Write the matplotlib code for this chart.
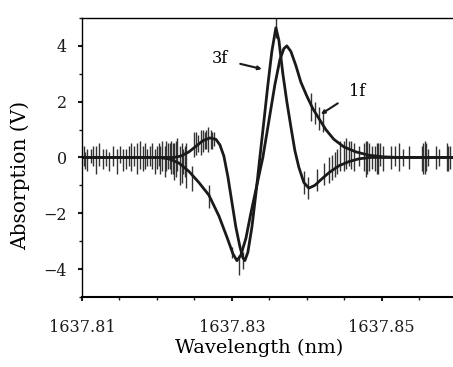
import matplotlib
matplotlib.use("Agg")
import matplotlib.pyplot as plt
from matplotlib.ticker import MultipleLocator

# smooth 1f signal (nm, V)
f1_x = [1637.81000, 1637.82027, 1637.82160, 1637.82293, 1637.82427, 1637.82560,
        1637.82693, 1637.82827, 1637.82933, 1637.83013, 1637.83067, 1637.83120,
        1637.83187, 1637.83253, 1637.83333, 1637.83413, 1637.83493, 1637.83573,
        1637.83640, 1637.83693, 1637.83733, 1637.83787, 1637.83853, 1637.83920,
        1637.84000, 1637.84080, 1637.84160, 1637.84253, 1637.84360, 1637.84493,
        1637.84653, 1637.84827, 1637.85027, 1637.85227, 1637.85950]
f1_y = [0, 0, -0.05, -0.2, -0.5, -0.9,
        -1.35, -2.1, -2.85, -3.45, -3.7, -3.5,
        -2.9, -2.0, -1.0, 0.0, 1.3, 2.6,
        3.5, 3.9, 4.0, 3.8, 3.3, 2.7,
        2.2, 1.75, 1.4, 1.0, 0.65, 0.38,
        0.2, 0.08, 0.02, 0, 0]

# smooth 3f signal (nm, V)
f3_x = [1637.81000, 1637.82227, 1637.82320, 1637.82427, 1637.82520, 1637.82613,
        1637.82707, 1637.82787, 1637.82840, 1637.82893, 1637.82947, 1637.83000,
        1637.83053, 1637.83107, 1637.83147, 1637.83173, 1637.83213, 1637.83267,
        1637.83320, 1637.83373, 1637.83427, 1637.83480, 1637.83533, 1637.83587,
        1637.83627, 1637.83680, 1637.83733, 1637.83787, 1637.83840, 1637.83893,
        1637.83960, 1637.84027, 1637.84107, 1637.84187, 1637.84293, 1637.84427,
        1637.84560, 1637.84693, 1637.84853, 1637.85950]
f3_y = [0, 0, 0.05, 0.2, 0.4, 0.6,
        0.7, 0.65, 0.45, 0.05, -0.7, -1.6,
        -2.5, -3.2, -3.6, -3.7, -3.4, -2.5,
        -1.3, 0.0, 1.3, 2.6, 3.8, 4.65,
        4.2, 3.0, 2.0, 1.1, 0.25, -0.35,
        -0.9, -1.1, -1.0, -0.8, -0.55, -0.3,
        -0.15, -0.05, 0, 0]

# raw-signal noise bursts: position, low and high extent (V)
noise_x = [1637.81027, 1637.81067, 1637.81120, 1637.81187, 1637.81227, 1637.81280,
           1637.81360, 1637.81413, 1637.81467, 1637.81507, 1637.81587, 1637.81653,
           1637.81693, 1637.81733, 1637.81773, 1637.81813, 1637.81867, 1637.81933,
           1637.81973, 1637.82027, 1637.82067, 1637.82107, 1637.82147, 1637.82187,
           1637.82227, 1637.82267, 1637.82307, 1637.82347, 1637.82387, 1637.82467,
           1637.82493, 1637.82547, 1637.82587, 1637.82640, 1637.82680, 1637.82693,
           1637.82720, 1637.82760, 1637.83000, 1637.83093, 1637.83147, 1637.83587,
           1637.83960, 1637.84013, 1637.84053, 1637.84107, 1637.84133, 1637.84160,
           1637.84213, 1637.84227, 1637.84293, 1637.84373, 1637.84440, 1637.84520,
           1637.84560, 1637.84627, 1637.84693, 1637.84787, 1637.84827, 1637.84867,
           1637.84933, 1637.84973, 1637.85013, 1637.85120, 1637.85227, 1637.85280,
           1637.85360, 1637.85533, 1637.85573, 1637.85613, 1637.85720, 1637.85760,
           1637.85867, 1637.85907,
           1637.81040, 1637.81147, 1637.81320, 1637.81547, 1637.81627, 1637.81840,
           1637.81907, 1637.82000, 1637.82040, 1637.82120, 1637.82173, 1637.82213,
           1637.82253, 1637.82333, 1637.82373, 1637.82520, 1637.82613, 1637.82653,
           1637.82733, 1637.84493, 1637.84587, 1637.84760, 1637.84800, 1637.84907,
           1637.84947, 1637.85173, 1637.85547, 1637.85587, 1637.85880, 1637.84400,
           1637.84333]
noise_lo = [-0.3, -0.5, -0.2, -0.6, -0.3, -0.4,
            -0.5, -0.3, -0.6, -0.2, -0.4, -0.5,
            -0.3, -0.6, -0.4, -0.5, -0.3, -0.4,
            -0.6, -0.3, -0.5, -0.7, -0.4, -0.6,
            -0.8, -0.5, -1.0, -0.6, -1.1, -1.2,
            0.0, 0.2, 0.1, 0.3, 0.2, -1.8,
            0.3, 0.4, -3.6, -4.2, -4.0, 4.3,
            -1.3, -1.5, 1.3, 1.2, -1.2, 1.0,
            0.9, -1.0, -0.9, -0.7, -0.5, -0.4,
            -0.3, -0.5, -0.3, -0.7, -0.5, -0.4,
            -0.6, -0.3, -0.5, -0.4, -0.5, -0.3,
            -0.4, -0.5, -0.6, -0.3, -0.4, -0.3,
            -0.5, -0.4,
            -0.4, -0.3, -0.3, -0.5, -0.3, -0.4,
            -0.3, -0.4, -0.6, -0.5, -0.4, -0.6,
            -0.7, -0.9, -0.7, 0.1, 0.2, 0.3,
            0.3, -0.5, -0.4, -0.5, -0.6, -0.5,
            -0.6, -0.3, -0.6, -0.5, -0.5, -0.6,
            -0.8]
noise_hi = [0.4, 0.3, 0.3, 0.4, 0.5, 0.3,
            0.2, 0.4, 0.3, 0.4, 0.3, 0.5,
            0.4, 0.5, 0.6, 0.4, 0.3, 0.5,
            0.3, 0.5, 0.6, 0.4, 0.5, 0.6,
            0.5, 0.7, 0.4, 0.3, 0.5, -0.3,
            0.9, 0.8, 1.0, 0.9, 1.1, -1.0,
            1.0, 0.9, -3.2, -3.5, -3.4, 5.0,
            -0.5, -0.7, 2.3, 2.0, -0.4, 1.8,
            1.6, -0.2, 0.0, 0.2, 0.6, 0.7,
            0.6, 0.5, 0.4, 0.6, 0.5, 0.4,
            0.5, 0.5, 0.4, 0.4, 0.5, 0.3,
            0.4, 0.4, 0.6, 0.3, 0.4, 0.3,
            0.5, 0.4,
            0.2, 0.4, 0.3, 0.3, 0.4, 0.5,
            0.4, 0.4, 0.4, 0.6, 0.5, 0.5,
            0.6, 0.5, 0.4, 0.9, 1.0, 1.0,
            0.9, 0.6, 0.6, 0.5, 0.6, 0.4,
            0.5, 0.4, 0.5, 0.5, 0.4, 0.3,
            0.1]

x_ticks = [1637.81, 1637.83, 1637.85]
x_ticklabels = ["1637.81", "1637.83", "1637.85"]
y_ticks = [-4, -2, 0, 2, 4]

plt.rcParams['font.family'] = ['DejaVu Serif']

fig = plt.figure(figsize=(4.53, 3.67), dpi=100)
ax = fig.add_axes([0.181, 0.191, 0.819, 0.76])

ax.vlines(noise_x, noise_lo, noise_hi, color='#333333', lw=1.0)
ax.plot(f1_x, f1_y, color='#1a1a1a', lw=2.0)
ax.plot(f3_x, f3_y, color='#1a1a1a', lw=2.0)

ax.annotate('3f', xy=(1637.8340, 3.17), xytext=(1637.8284, 3.53),
            ha='center', va='center', fontsize=11.5,
            arrowprops=dict(arrowstyle='-|>', color='#1a1a1a', lw=1.5,
                            mutation_scale=5, shrinkA=7, shrinkB=0))
ax.annotate('1f', xy=(1637.84187, 1.55), xytext=(1637.84667, 2.38),
            ha='center', va='center', fontsize=11.5,
            arrowprops=dict(arrowstyle='-|>', color='#1a1a1a', lw=1.5,
                            mutation_scale=5, shrinkA=7, shrinkB=0))

ax.set_xlim(1637.81, 1637.8595)
ax.set_ylim(-5, 5)
ax.set_xticks(x_ticks)
ax.set_xticklabels(x_ticklabels)
ax.set_yticks(y_ticks)
ax.xaxis.set_minor_locator(MultipleLocator(0.005))
ax.yaxis.set_minor_locator(MultipleLocator(1))
ax.tick_params(which='both', direction='out', labelsize=11.5, colors='#1a1a1a')
ax.tick_params(which='major', length=3, width=1.5, pad=13)
ax.tick_params(which='minor', length=2, width=1)
ax.tick_params(axis='y', which='major', pad=8)

ax.spines['right'].set_visible(False)
ax.spines['bottom'].set_linewidth(1.5)
for side in ('top', 'left'):
    ax.spines[side].set_linewidth(1.0)
    ax.spines[side].set_linestyle((0, (1, 1)))

ax.set_xlabel('Wavelength (nm)', fontsize=14, va='center')
ax.set_ylabel('Absorption (V)', fontsize=14.5, va='center')
ax.xaxis.set_label_coords(0.477, -0.183)
ax.yaxis.set_label_coords(-0.167, 0.437)

fig.savefig('out.png', dpi=100)
